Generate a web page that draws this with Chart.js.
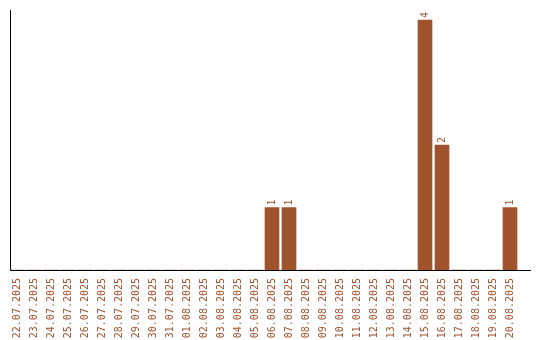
<!DOCTYPE html>
<html>
<head>
<meta charset="utf-8">
<script src="https://cdn.jsdelivr.net/npm/chart.js@4/dist/chart.umd.min.js"></script>
<style>
  html, body { margin: 0; padding: 0; background: #fff; }
  #wrap { width: 540px; height: 340px; }
</style>
</head>
<body>
<div id="wrap"><canvas id="chart" width="540" height="340"></canvas></div>
<script>
const dates = [
  '22.07.2025', '23.07.2025', '24.07.2025', '25.07.2025', '26.07.2025',
  '27.07.2025', '28.07.2025', '29.07.2025', '30.07.2025', '31.07.2025',
  '01.08.2025', '02.08.2025', '03.08.2025', '04.08.2025', '05.08.2025',
  '06.08.2025', '07.08.2025', '08.08.2025', '09.08.2025', '10.08.2025',
  '11.08.2025', '12.08.2025', '13.08.2025', '14.08.2025', '15.08.2025',
  '16.08.2025', '17.08.2025', '18.08.2025', '19.08.2025', '20.08.2025'
]
const counts = [
  0, 0, 0, 0, 0, 0, 0, 0, 0, 0,
  0, 0, 0, 0, 0, 1, 1, 0, 0, 0,
  0, 0, 0, 0, 4, 2, 0, 0, 0, 1
]

const BAR_COLOR = '#a0522d'
const FONT = "'DejaVu Sans Mono', monospace"

// draws the plain axis lines and the rotated value labels above bars
const decorations = {
  id: 'decorations',
  afterDatasetsDraw(chart) {
    const ctx = chart.ctx
    const area = chart.chartArea

    ctx.save()
    ctx.strokeStyle = '#000'
    ctx.lineWidth = 1
    ctx.beginPath()
    ctx.moveTo(10.5, area.top)
    ctx.lineTo(10.5, area.bottom + 0.5)
    ctx.lineTo(531, area.bottom + 0.5)
    ctx.stroke()

    ctx.fillStyle = BAR_COLOR
    ctx.font = `10px ${FONT}`
    ctx.textAlign = 'left'
    ctx.textBaseline = 'middle'
    const meta = chart.getDatasetMeta(0)
    meta.data.forEach((bar, i) => {
      if (!counts[i]) return
      ctx.save()
      ctx.translate(bar.x, bar.y - 2)
      ctx.rotate(-Math.PI / 2)
      ctx.fillText(String(counts[i]), 0, 0)
      ctx.restore()
    })
    ctx.restore()
  }
}

new Chart(document.getElementById('chart'), {
  type: 'bar',
  data: {
    labels: dates,
    datasets: [{
      data: counts,
      backgroundColor: BAR_COLOR,
      borderWidth: 0,
      barThickness: 14
    }]
  },
  options: {
    responsive: false,
    animation: false,
    layout: { padding: { left: 8.5, right: 21.5, top: 10, bottom: 0 } },
    plugins: {
      legend: { display: false },
      tooltip: { enabled: false }
    },
    scales: {
      x: {
        grid: { display: false },
        border: { display: false },
        afterFit(scale) { scale.height = 70 },
        ticks: {
          autoSkip: false,
          minRotation: 90,
          maxRotation: 90,
          padding: 0,
          color: BAR_COLOR,
          font: { family: FONT, size: 10 }
        }
      },
      y: {
        display: false,
        min: 0,
        max: 4.16
      }
    }
  },
  plugins: [decorations]
})
</script>
</body>
</html>
